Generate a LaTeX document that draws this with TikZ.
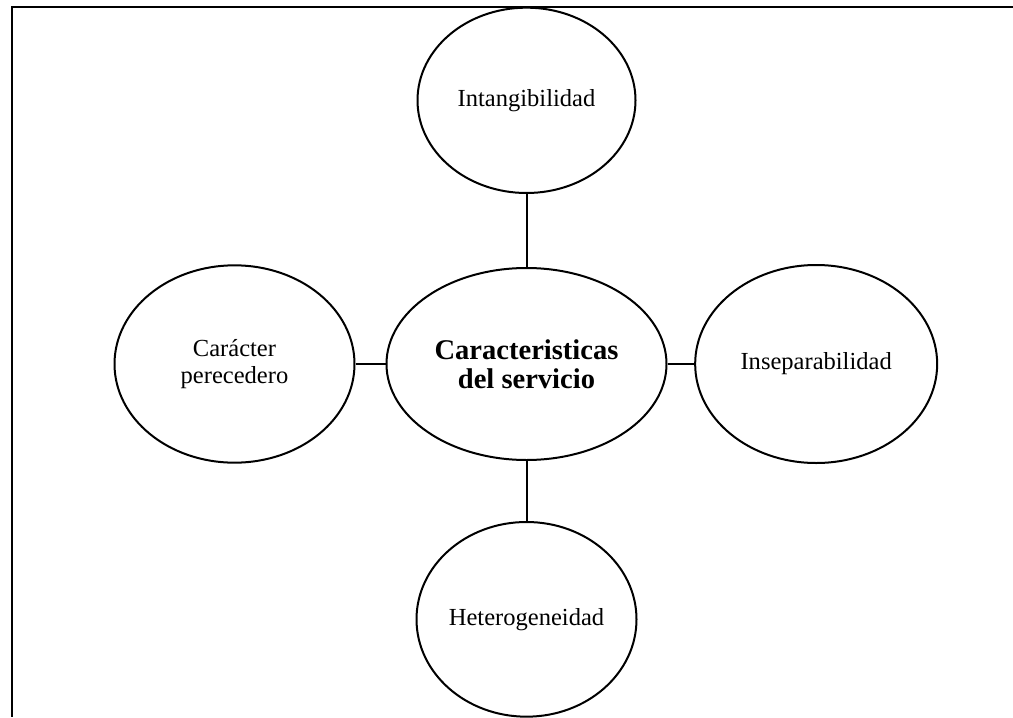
\documentclass[tikz,border=0pt]{standalone}
\usepackage{fontspec}
\setmainfont{Liberation Serif}
\usepackage{tikz}
\usetikzlibrary{positioning, shapes.geometric}
\tikzset{
  bubble/.style={draw, ellipse, line width=1.5pt, inner sep=0pt, align=center,
    font=\fontsize{18.4}{20}\selectfont},
  hub/.style={bubble, minimum width=210pt, minimum height=144pt,
    font=\fontsize{21.4}{21.5}\selectfont\bfseries},
  link/.style={line width=1.5pt},
  frame/.style={line width=1.8pt},
}
\begin{document}
\begin{tikzpicture}[x=0.75pt, y=-0.75pt]
\useasboundingbox (0,0) rectangle (1013,717);
% frame, cut off at right and bottom
\coordinate (ftop) at (1013,7);
\coordinate (fcorner) at (11.7,7);
\coordinate (fbot) at (11.7,717);
\draw[frame] (ftop) -- (fcorner) -- (fbot);
% centre and the four characteristics
\node[hub] (hub) at (526.5,364) {Caracteristicas\\del servicio};
\node[bubble, minimum width=163.5pt, minimum height=139pt, above=54.75pt of hub] (intang) {Intangibilidad};
\node[bubble, minimum width=165pt, minimum height=146pt, below=45pt of hub] (hetero) {Heterogeneidad};
\node[bubble, minimum width=181.5pt, minimum height=148.5pt, right=20pt of hub] (insep) {Inseparabilidad};
\node[bubble, minimum width=180pt, minimum height=148pt, left=22.5pt of hub] (perec) {Carácter\\perecedero};
\draw[link] (intang) -- (hub);
\draw[link] (hub) -- (hetero);
\draw[link] (hub) -- (insep);
\draw[link] (perec) -- (hub);
\end{tikzpicture}
\end{document}
